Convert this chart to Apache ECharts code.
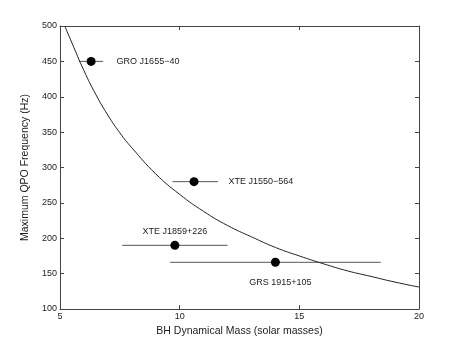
<!DOCTYPE html>
<html>
<head>
<meta charset="utf-8">
<script src="https://cdn.jsdelivr.net/npm/echarts@6/dist/echarts.min.js"></script>
<style>html,body{margin:0;padding:0;background:#fff}#c{width:463px;height:348px}</style>
</head>
<body>
<div id="c"></div>
<script>
// sources
const names = ["GRO J1655\u221240", "XTE J1550\u2212564", "XTE J1859+226", "GRS 1915+105"]
const mass = [6.3, 10.6, 9.8, 14.0]
const massLo = [5.8, 9.7, 7.6, 9.6]
const massHi = [6.8, 11.6, 12.0, 18.4]
const freq = [450, 280, 190, 166]
// curve
const curveMass = [5.2, 5.5, 6, 6.5, 7, 7.5, 8, 9, 10, 11, 12, 13, 14, 15, 16, 17, 18, 19, 20]
const curveFreq = [500, 476, 437, 403, 374, 349, 328, 291, 262, 238, 218, 202, 187, 175, 164, 154, 146, 138, 131]
const xTicks = [5, 10, 15, 20]
const yTicks = [100, 150, 200, 250, 300, 350, 400, 450, 500]

const labelPos = [
  { position: "right", offset: [16, 0] },
  { position: "right", offset: [25, 0] },
  { position: "top", offset: [0, 0] },
  { position: "bottom", offset: [5, 6] }
]
const font = "Liberation Sans"
const axisCol = "#444"

const chart = echarts.init(document.getElementById("c"))
const mkX = (show) => ({
  type: "value", min: xTicks[0], max: xTicks[xTicks.length - 1], interval: 5,
  position: show ? "bottom" : "top",
  name: show ? "BH Dynamical Mass (solar masses)" : "", nameLocation: "middle", nameGap: 13,
  nameTextStyle: { fontFamily: font, fontSize: 10.5, color: "#222" },
  axisLine: { show: true, lineStyle: { color: axisCol } },
  axisTick: { show: true, inside: true, length: 4, lineStyle: { color: axisCol } },
  axisLabel: { show: show, fontFamily: font, fontSize: 9, color: "#222", margin: 3 },
  splitLine: { show: false }
})
const mkY = (show) => ({
  type: "value", min: yTicks[0], max: yTicks[yTicks.length - 1], interval: 50,
  position: show ? "left" : "right",
  name: show ? "Maximum QPO Frequency (Hz)" : "", nameLocation: "middle", nameGap: 22,
  nameTextStyle: { fontFamily: font, fontSize: 10.5, color: "#222" },
  axisLine: { show: true, lineStyle: { color: axisCol } },
  axisTick: { show: true, inside: true, length: 4, lineStyle: { color: axisCol } },
  axisLabel: { show: show, fontFamily: font, fontSize: 9, color: "#222", margin: 3 },
  splitLine: { show: false }
})

chart.setOption({
  animation: false,
  grid: { left: 60, right: 44, top: 26, bottom: 39 },
  xAxis: [mkX(true), mkX(false)],
  yAxis: [mkY(true), mkY(false)],
  series: [
    {
      type: "line", smooth: true, symbol: "none",
      data: curveMass.map((m, i) => [m, curveFreq[i]]),
      lineStyle: { color: "#222", width: 1 }
    },
    {
      type: "custom",
      data: names.map((n, i) => [massLo[i], massHi[i], freq[i]]),
      renderItem: (params, api) => {
        const a = api.coord([api.value(0), api.value(2)])
        const b = api.coord([api.value(1), api.value(2)])
        return { type: "line", shape: { x1: a[0], y1: a[1], x2: b[0], y2: b[1] }, style: { stroke: "#555", lineWidth: 1 } }
      },
      z: 3
    },
    {
      type: "scatter", symbolSize: 9,
      itemStyle: { color: "#000", opacity: 1 },
      data: names.map((n, i) => ({
        value: [mass[i], freq[i]], name: n,
        label: Object.assign({ show: true, formatter: n, fontFamily: font, fontSize: 9, color: "#222" }, labelPos[i])
      })),
      z: 4
    }
  ]
})
</script>
</body>
</html>
